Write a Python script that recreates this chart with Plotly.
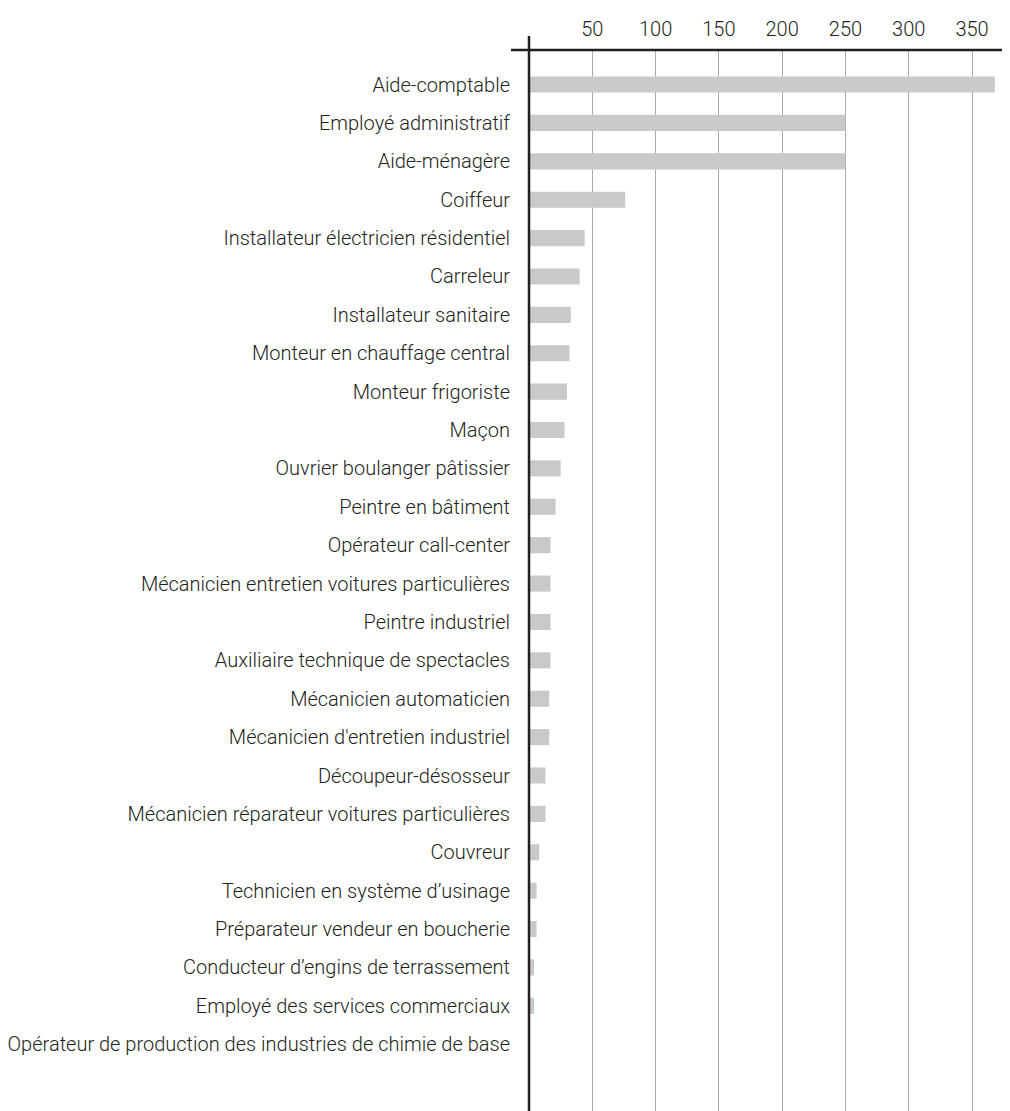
import plotly.graph_objects as go

categories = [
    "Aide-comptable",
    "Employé administratif",
    "Aide-ménagère",
    "Coiffeur",
    "Installateur électricien résidentiel",
    "Carreleur",
    "Installateur sanitaire",
    "Monteur en chauffage central",
    "Monteur frigoriste",
    "Maçon",
    "Ouvrier boulanger pâtissier",
    "Peintre en bâtiment",
    "Opérateur call-center",
    "Mécanicien entretien voitures particulières",
    "Peintre industriel",
    "Auxiliaire technique de spectacles",
    "Mécanicien automaticien",
    "Mécanicien d'entretien industriel",
    "Découpeur-désosseur",
    "Mécanicien réparateur voitures particulières",
    "Couvreur",
    "Technicien en système d’usinage",
    "Préparateur vendeur en boucherie",
    "Conducteur d’engins de terrassement",
    "Employé des services commerciaux",
    "Opérateur de production des industries de chimie de base",
]
values = [368, 250, 250, 76, 44, 40, 33, 32, 30, 28, 25, 21, 17, 17, 17, 17, 16, 16, 13, 13, 8, 6, 6, 4, 4, 0]
x_ticks = [50, 100, 150, 200, 250, 300, 350]

FONT = "Roboto, Liberation Sans, sans-serif"
TEXT = "#231f20"
tfont = dict(family=FONT, size=20, color=TEXT, weight=300)

fig = go.Figure(go.Bar(
    x=values, y=categories, orientation="h",
    marker=dict(color="#c8c9cb", line=dict(width=0)),
    width=0.42,
))

fig.update_layout(
    width=1002, height=1103,
    margin=dict(l=521, r=0, t=42, b=0),
    plot_bgcolor="white", paper_bgcolor="white",
    font=tfont,
    showlegend=False,
)
fig.update_xaxes(
    side="top", range=[0, 380], tickvals=x_ticks,
    showgrid=True, gridcolor="#aaaaaa", gridwidth=1,
    showline=False, zeroline=False, ticks="",
    ticklabelstandoff=9, automargin=False, tickfont=tfont,
)
fig.update_yaxes(
    range=[26.74, -0.9], showgrid=False, zeroline=False, showline=False,
    ticks="", ticklabelstandoff=18, automargin=False, tickfont=tfont,
)
fig.add_shape(type="line", xref="paper", yref="paper", x0=-0.0374, x1=1, y0=1, y1=1,
              line=dict(color="#231f20", width=2.5))
fig.add_shape(type="line", xref="paper", yref="paper", x0=0, x1=0, y0=0, y1=1.0132,
              line=dict(color="#231f20", width=2.5))

fig.write_html("out.html")
